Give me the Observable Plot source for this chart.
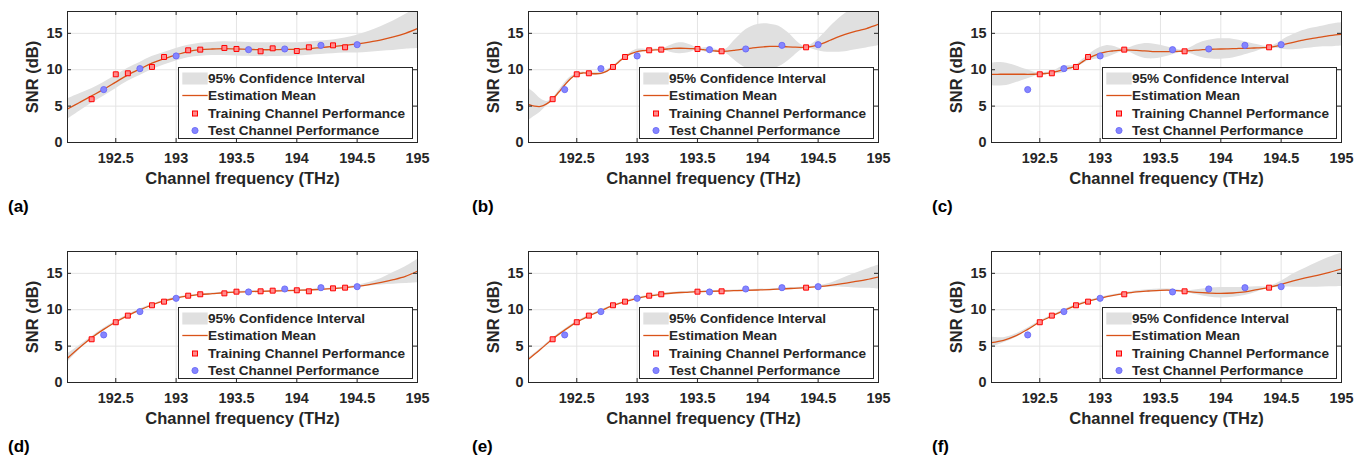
<!DOCTYPE html>
<html><head><meta charset="utf-8">
<script src="https://cdn.jsdelivr.net/npm/d3@7"></script>
<script src="https://cdn.jsdelivr.net/npm/@observablehq/plot@0.6"></script>
<style>
html,body{margin:0;padding:0;background:#fff;}
body{width:1363px;height:460px;overflow:hidden;position:relative;font-family:"Liberation Sans",Arial,sans-serif;}
.panel{position:absolute;width:437px;height:200px;}
.panel svg{overflow:visible;max-width:none;}
.tag{position:absolute;font-weight:bold;font-size:17px;line-height:17px;color:#000;white-space:nowrap;}
.legend{position:absolute;width:234.5px;height:72.5px;background:#fff;border:1px solid #262626;box-sizing:border-box;padding-top:1.75px;}
.legend .row{display:flex;align-items:center;height:17.5px;font-weight:bold;font-size:13.6px;color:#262626;white-space:nowrap;}
.legend .row svg{flex:none;display:block;}
g[aria-label="x-axis label"], g[aria-label="y-axis label"]{font-size:16.5px;}
</style>
</head><body>
<script>
// ---------- tick values ----------
const xTicks = [192.5, 193, 193.5, 194, 194.5, 195];
const yTicks = [0, 5, 10, 15];

// ---------- measured channels ----------
const channelF = [192.3,192.4,192.5,192.6,192.7,192.8,192.9,193.0,193.1,193.2,193.4,193.5,193.6,193.7,193.8,193.9,194.0,194.1,194.2,194.3,194.4,194.5];
const snrTop    = [5.95,7.27,9.37,9.51,10.15,10.38,11.75,11.89,12.67,12.76,12.99,12.85,12.76,12.53,12.94,12.85,12.57,13.08,13.35,13.35,13.08,13.44];
const snrBottom = [5.94,6.54,8.28,9.19,9.74,10.61,11.11,11.57,11.93,12.12,12.25,12.48,12.44,12.53,12.62,12.85,12.67,12.53,13.03,12.94,13.03,13.17];
const testF   = [192.4,192.7,193.0,193.6,193.9,194.2,194.5];
const trainF1 = [192.3,192.5,192.6,192.8,192.9,193.1,193.2,193.4,193.5,193.7,193.8,194.0,194.1,194.3,194.4];
const trainF2 = [192.3,192.5,192.6,192.8,192.9,193.1,193.2,193.5,193.7,194.4];
const trainF3 = [192.5,192.6,192.8,192.9,193.2,193.7,194.4];

// ---------- estimation grids ----------
const grid10 = [192.1,192.2,192.3,192.4,192.5,192.6,192.7,192.8,192.9,193.0,193.1,193.2,193.3,193.4,193.5,193.6,193.7,193.8,193.9,194.0,194.1,194.2,194.3,194.4,194.5,194.6,194.7,194.8,194.9,195.0];
const grid05 = [192.1,192.15,192.2,192.25,192.3,192.35,192.4,192.45,192.5,192.55,192.6,192.65,192.7,192.75,192.8,192.85,192.9,192.95,193.0,193.05,193.1,193.15,193.2,193.25,193.3,193.35,193.4,193.45,193.5,193.55,193.6,193.65,193.7,193.75,193.8,193.85,193.9,193.95,194.0,194.05,194.1,194.15,194.2,194.25,194.3,194.35,194.4,194.45,194.5,194.55,194.6,194.65,194.7,194.75,194.8,194.85,194.9,194.95,195.0];

// (a)
const meanA = [4.6,5.5,6.4,7.3,8.3,9.3,10.1,10.9,11.5,12.05,12.5,12.75,12.85,12.9,12.85,12.8,12.75,12.75,12.8,12.8,12.9,13.05,13.2,13.35,13.55,13.8,14.1,14.5,15.0,15.65];
const loA   = [3.2,4.3,5.4,6.35,7.4,8.4,9.2,10.0,10.65,11.2,11.65,11.85,11.95,11.95,11.9,11.85,11.8,11.8,11.85,11.9,12.0,12.1,12.2,12.3,12.3,12.4,12.55,12.65,12.8,12.9];
const hiA   = [6.0,6.7,7.4,8.25,9.2,10.2,11.0,11.8,12.35,12.9,13.35,13.65,13.75,13.85,13.8,13.75,13.7,13.7,13.75,13.7,13.8,13.95,14.1,14.35,14.75,15.3,15.95,16.7,17.6,18.45];
// (b)
const meanB = [5.25,5.0,4.95,5.3,5.95,6.9,7.9,8.8,9.35,9.55,9.5,9.45,9.5,9.8,10.38,11.1,11.75,12.2,12.5,12.62,12.67,12.72,12.77,12.85,12.92,12.95,12.94,12.9,12.85,12.75,12.67,12.57,12.53,12.55,12.65,12.75,12.87,12.98,13.08,13.15,13.2,13.2,13.18,13.14,13.1,13.07,13.08,13.2,13.4,13.7,14.05,14.4,14.72,15.0,15.25,15.45,15.65,15.95,16.25];
const loB   = [3.0,3.6,4.2,5.0,5.85,6.7,7.6,8.55,9.28,9.4,9.42,9.25,9.3,9.6,10.3,10.95,11.68,12.0,12.2,12.4,12.6,12.6,12.7,12.55,12.3,12.2,12.25,12.45,12.78,12.5,12.35,12.35,12.46,12.1,11.4,10.75,10.25,9.95,9.85,9.85,9.95,10.2,10.6,11.2,11.9,12.6,13.0,12.85,12.6,12.45,12.4,12.4,12.45,12.55,12.7,12.85,13.0,13.15,13.3];
const hiB   = [7.5,6.8,6.0,5.65,6.05,7.1,8.2,9.05,9.42,9.7,9.58,9.65,9.7,10.0,10.46,11.25,11.82,12.4,12.8,12.84,12.74,12.84,12.84,13.15,13.5,13.7,13.65,13.35,12.92,13.0,13.0,12.8,12.6,13.0,13.9,14.75,15.5,15.95,16.2,16.3,16.25,16.1,15.75,15.1,14.3,13.55,13.15,13.55,14.2,15.0,15.9,16.7,17.4,18.0,18.4,18.7,19.0,19.2,19.4];
// (c)
const meanC = [9.37,9.37,9.38,9.38,9.38,9.38,9.37,9.38,9.42,9.48,9.58,9.8,10.06,10.25,10.5,11.05,11.57,11.95,12.25,12.45,12.57,12.67,12.71,12.7,12.66,12.6,12.55,12.5,12.48,12.48,12.5,12.53,12.56,12.62,12.7,12.75,12.8,12.82,12.85,12.87,12.9,12.92,12.94,12.97,13.0,13.03,13.08,13.2,13.4,13.58,13.76,13.95,14.13,14.28,14.4,14.55,14.68,14.78,14.86];
const loC   = [7.8,7.75,7.8,7.95,8.2,8.5,8.75,9.05,9.3,9.32,9.45,9.45,9.6,9.95,10.35,10.75,11.2,11.4,11.5,11.65,11.95,12.3,12.55,12.35,11.95,11.65,11.5,11.5,11.6,11.8,12.05,12.3,12.42,12.2,11.9,11.65,11.5,11.45,11.45,11.5,11.6,11.8,12.05,12.3,12.55,12.8,12.95,12.95,12.85,12.75,12.75,12.8,12.9,13.0,13.1,13.15,13.15,13.2,13.25];
const hiC   = [10.9,11.0,10.95,10.8,10.55,10.25,10.0,9.7,9.55,9.64,9.7,10.15,10.5,10.55,10.65,11.35,11.95,12.6,13.05,13.3,13.25,13.0,12.87,13.05,13.35,13.55,13.6,13.5,13.35,13.15,12.95,12.75,12.7,13.05,13.5,13.85,14.05,14.2,14.25,14.25,14.2,14.05,13.85,13.65,13.45,13.25,13.2,13.45,13.95,14.45,14.85,15.2,15.45,15.7,15.85,16.0,16.2,16.35,16.45];
// (d)
const meanD = [3.34,4.8,6.15,7.3,8.32,9.19,9.97,10.65,11.2,11.61,11.89,12.07,12.2,12.33,12.42,12.48,12.53,12.57,12.62,12.67,12.71,12.8,12.9,13.03,13.2,13.44,13.76,14.13,14.59,15.3];
const loD   = [2.75,4.5,6.0,7.15,8.2,9.08,9.85,10.55,11.1,11.52,11.8,11.98,12.1,12.24,12.34,12.4,12.45,12.49,12.53,12.58,12.62,12.71,12.81,12.94,13.1,13.25,13.4,13.5,13.6,13.7];
const hiD   = [3.95,5.1,6.3,7.45,8.44,9.3,10.09,10.75,11.3,11.7,11.98,12.16,12.3,12.42,12.5,12.56,12.61,12.65,12.71,12.76,12.8,12.89,12.99,13.12,13.35,13.75,14.3,15.1,15.9,16.9];
// (e)
const meanE = [3.2,4.57,5.99,7.2,8.3,9.14,9.88,10.56,11.11,11.57,11.89,12.12,12.3,12.39,12.48,12.53,12.57,12.62,12.67,12.71,12.76,12.85,12.94,13.03,13.17,13.35,13.58,13.85,14.13,14.5];
const loE   = [3.05,4.47,5.9,7.1,8.2,9.04,9.78,10.46,11.01,11.47,11.79,12.02,12.2,12.29,12.38,12.43,12.47,12.52,12.57,12.61,12.66,12.75,12.84,12.93,13.05,13.1,13.1,13.0,12.95,12.85];
const hiE   = [3.35,4.67,6.08,7.3,8.4,9.24,9.98,10.66,11.21,11.67,11.99,12.22,12.4,12.49,12.58,12.63,12.67,12.72,12.77,12.81,12.86,12.95,13.04,13.13,13.3,13.65,14.3,14.95,15.55,16.15];
// (f)
const meanF = [5.49,5.8,6.4,7.3,8.32,9.14,9.88,10.61,11.16,11.57,11.93,12.21,12.44,12.57,12.67,12.67,12.53,12.39,12.3,12.25,12.3,12.44,12.76,13.08,13.49,13.95,14.36,14.72,15.13,15.59];
const loF   = [4.8,5.45,6.15,7.1,8.2,9.05,9.75,10.5,11.05,11.45,11.8,12.1,12.3,12.4,12.5,12.5,12.45,12.05,11.75,11.6,11.7,11.95,12.45,12.98,13.1,13.1,13.1,13.1,13.15,13.2];
const hiF   = [6.25,6.15,6.65,7.5,8.44,9.23,10.0,10.72,11.27,11.69,12.06,12.32,12.6,12.75,12.85,12.82,12.61,12.75,12.95,13.05,13.05,13.1,13.15,13.2,13.9,14.9,15.7,16.5,17.2,17.8];

// ---------- text ----------
const xLabel = "Channel frequency (THz)";
const yLabel = "SNR (dB)";
const legendLabels = ["95% Confidence Interval", "Estimation Mean", "Training Channel Performance", "Test Channel Performance"];
const panelTags = ["(a)", "(b)", "(c)", "(d)", "(e)", "(f)"];

// ---------- style ----------
const bandColor = "#e0e0e0";
const meanColor = "#d95319";
const trainFill = "#ff8c8c", trainStroke = "#ff0000";
const testFill = "#8585ff", testStroke = "#6464f5";
const axisColor = "#262626";
const gridColor = "#e4e4e4";

const panels = [
  {grid: grid10, mean: meanA, lo: loA, hi: hiA, snr: snrTop,    train: trainF1, left: 0,   top: 0},
  {grid: grid05, mean: meanB, lo: loB, hi: hiB, snr: snrTop,    train: trainF2, left: 461, top: 0},
  {grid: grid05, mean: meanC, lo: loC, hi: hiC, snr: snrTop,    train: trainF3, left: 924, top: 0},
  {grid: grid10, mean: meanD, lo: loD, hi: hiD, snr: snrBottom, train: trainF1, left: 0,   top: 240},
  {grid: grid10, mean: meanE, lo: loE, hi: hiE, snr: snrBottom, train: trainF2, left: 461, top: 240},
  {grid: grid10, mean: meanF, lo: loF, hi: hiF, snr: snrBottom, train: trainF3, left: 924, top: 240}
];
const tagPos = [[8,198],[472,198],[932,198],[8,438],[472,438],[932,438]];

const W = 437, H = 200, ML = 67, MR = 20, MT = 11, MB = 58;
const plotH = H - MT - MB, plotW = W - ML - MR;

function lookup(snr, f) {
  const i = channelF.findIndex(c => Math.abs(c - f) < 1e-6);
  return snr[i];
}

function makePanel(p) {
  const est = p.grid.map((f, i) => ({f, m: p.mean[i], lo: p.lo[i], hi: p.hi[i]}));
  const train = p.train.map(f => ({f, v: lookup(p.snr, f)}));
  const test = testF.map(f => ({f, v: lookup(p.snr, f)}));
  return Plot.plot({
    width: W, height: H, marginLeft: ML, marginRight: MR, marginTop: MT, marginBottom: MB,
    style: {fontFamily: '"Liberation Sans", Arial, sans-serif', fontSize: "14.4px", fontWeight: "bold", color: axisColor, background: "transparent", overflow: "visible"},
    x: {domain: [192.1, 195]},
    y: {domain: [0, 18]},
    marks: [
      Plot.gridX(xTicks, {stroke: gridColor, strokeOpacity: 1}),
      Plot.gridY(yTicks, {stroke: gridColor, strokeOpacity: 1}),
      Plot.areaY(est, {x: "f", y1: "lo", y2: "hi", fill: bandColor, curve: "catmull-rom", clip: true}),
      Plot.lineY(est, {x: "f", y: "m", stroke: meanColor, strokeWidth: 1.3, curve: "catmull-rom", clip: true}),
      Plot.dot(train, {x: "f", y: "v", symbol: "square", r: 2.8, fill: trainFill, stroke: trainStroke, strokeWidth: 1}),
      Plot.dot(test, {x: "f", y: "v", r: 3.1, fill: testFill, stroke: testStroke, strokeWidth: 0.8}),
      Plot.tickX(xTicks, {x: d => d, insetTop: plotH - 4, stroke: axisColor}),
      Plot.tickX(xTicks, {x: d => d, insetBottom: plotH - 4, stroke: axisColor}),
      Plot.tickY(yTicks, {y: d => d, insetRight: plotW - 4, stroke: axisColor}),
      Plot.tickY(yTicks, {y: d => d, insetLeft: plotW - 4, stroke: axisColor}),
      Plot.frame({stroke: axisColor}),
      Plot.axisX({ticks: xTicks, tickSize: 0, tickPadding: 10, tickFormat: d => String(d), label: xLabel, labelAnchor: "center", labelOffset: 41, labelArrow: "none"}),
      Plot.axisY({ticks: yTicks, tickSize: 0, tickPadding: 5, tickFormat: d => String(d), label: yLabel, labelAnchor: "center", labelOffset: 41, labelArrow: "none"})
    ]
  });
}

function makeLegend() {
  const lg = document.createElement("div");
  lg.className = "legend";
  const ns = "http://www.w3.org/2000/svg";
  legendLabels.forEach((txt, i) => {
    const row = document.createElement("div");
    row.className = "row";
    const s = document.createElementNS(ns, "svg");
    s.setAttribute("width", "29"); s.setAttribute("height", "17");
    let el;
    if (i === 0) {
      el = document.createElementNS(ns, "rect");
      el.setAttribute("x", "3.3"); el.setAttribute("y", "2.5"); el.setAttribute("width", "25.4"); el.setAttribute("height", "12");
      el.setAttribute("fill", bandColor);
    } else if (i === 1) {
      el = document.createElementNS(ns, "line");
      el.setAttribute("x1", "3.3"); el.setAttribute("x2", "28.7"); el.setAttribute("y1", "8.5"); el.setAttribute("y2", "8.5");
      el.setAttribute("stroke", meanColor); el.setAttribute("stroke-width", "1.3");
    } else if (i === 2) {
      el = document.createElementNS(ns, "rect");
      el.setAttribute("x", "13.5"); el.setAttribute("y", "6"); el.setAttribute("width", "5"); el.setAttribute("height", "5");
      el.setAttribute("fill", trainFill); el.setAttribute("stroke", trainStroke);
    } else {
      el = document.createElementNS(ns, "circle");
      el.setAttribute("cx", "16"); el.setAttribute("cy", "8.5"); el.setAttribute("r", "3.1");
      el.setAttribute("fill", testFill); el.setAttribute("stroke", testStroke); el.setAttribute("stroke-width", "0.8");
    }
    s.appendChild(el);
    row.appendChild(s);
    const span = document.createElement("span");
    span.textContent = txt;
    row.appendChild(span);
    lg.appendChild(row);
  });
  return lg;
}

panels.forEach((p, i) => {
  const div = document.createElement("div");
  div.className = "panel";
  div.style.left = p.left + "px";
  div.style.top = p.top + "px";
  div.appendChild(makePanel(p));
  document.body.appendChild(div);
  const lg = makeLegend();
  lg.style.left = (p.left + ML + 111) + "px";
  lg.style.top = (p.top + MT + 55.5) + "px";
  document.body.appendChild(lg);
  const tag = document.createElement("div");
  tag.className = "tag";
  tag.textContent = panelTags[i];
  tag.style.left = tagPos[i][0] + "px";
  tag.style.top = tagPos[i][1] + "px";
  document.body.appendChild(tag);
});
</script>
</body></html>
